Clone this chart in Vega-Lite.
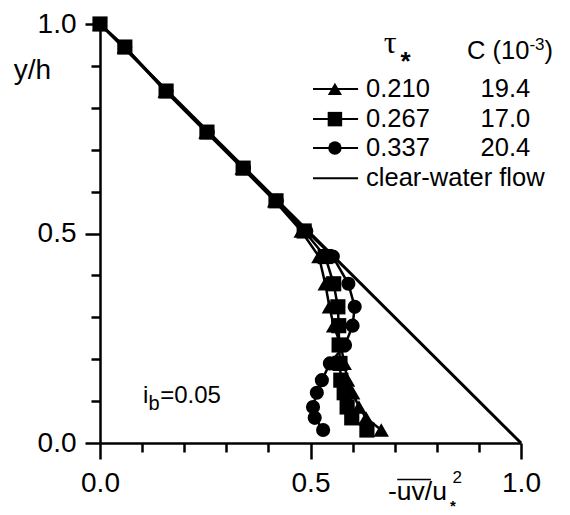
{
  "$schema": "https://vega.github.io/schema/vega-lite/v6.json",
  "width": 421,
  "height": 419,
  "autosize": "none",
  "padding": {"left": 100, "top": 24, "right": 49, "bottom": 72},
  "background": "white",
  "config": {"view": {"stroke": null}, "font": "Liberation Sans", "text": {"font": "Liberation Sans", "color": "black", "fontSize": 25.5}},
  "datasets": {
    "clear": [{"x": 0, "y": 1}, {"x": 1, "y": 0}],
    "one": [{}],
    "profiles": [
      {"tau": "0.210", "x": 0, "y": 1.0}, {"tau": "0.210", "x": 0.058, "y": 0.945}, {"tau": "0.210", "x": 0.155, "y": 0.84}, {"tau": "0.210", "x": 0.252, "y": 0.742}, {"tau": "0.210", "x": 0.338, "y": 0.656}, {"tau": "0.210", "x": 0.415, "y": 0.578}, {"tau": "0.210", "x": 0.478, "y": 0.506}, {"tau": "0.210", "x": 0.52, "y": 0.445}, {"tau": "0.210", "x": 0.535, "y": 0.38}, {"tau": "0.210", "x": 0.545, "y": 0.325}, {"tau": "0.210", "x": 0.555, "y": 0.28}, {"tau": "0.210", "x": 0.572, "y": 0.234}, {"tau": "0.210", "x": 0.58, "y": 0.19}, {"tau": "0.210", "x": 0.588, "y": 0.15}, {"tau": "0.210", "x": 0.6, "y": 0.12}, {"tau": "0.210", "x": 0.615, "y": 0.086}, {"tau": "0.210", "x": 0.632, "y": 0.06}, {"tau": "0.210", "x": 0.668, "y": 0.031},
      {"tau": "0.267", "x": 0, "y": 1.0}, {"tau": "0.267", "x": 0.059, "y": 0.945}, {"tau": "0.267", "x": 0.157, "y": 0.84}, {"tau": "0.267", "x": 0.254, "y": 0.742}, {"tau": "0.267", "x": 0.34, "y": 0.656}, {"tau": "0.267", "x": 0.418, "y": 0.578}, {"tau": "0.267", "x": 0.485, "y": 0.506}, {"tau": "0.267", "x": 0.535, "y": 0.445}, {"tau": "0.267", "x": 0.555, "y": 0.38}, {"tau": "0.267", "x": 0.565, "y": 0.325}, {"tau": "0.267", "x": 0.567, "y": 0.28}, {"tau": "0.267", "x": 0.568, "y": 0.234}, {"tau": "0.267", "x": 0.57, "y": 0.19}, {"tau": "0.267", "x": 0.572, "y": 0.15}, {"tau": "0.267", "x": 0.58, "y": 0.12}, {"tau": "0.267", "x": 0.587, "y": 0.086}, {"tau": "0.267", "x": 0.598, "y": 0.06}, {"tau": "0.267", "x": 0.634, "y": 0.031},
      {"tau": "0.337", "x": 0, "y": 1.0}, {"tau": "0.337", "x": 0.06, "y": 0.945}, {"tau": "0.337", "x": 0.158, "y": 0.84}, {"tau": "0.337", "x": 0.256, "y": 0.742}, {"tau": "0.337", "x": 0.342, "y": 0.656}, {"tau": "0.337", "x": 0.42, "y": 0.578}, {"tau": "0.337", "x": 0.49, "y": 0.506}, {"tau": "0.337", "x": 0.553, "y": 0.445}, {"tau": "0.337", "x": 0.59, "y": 0.38}, {"tau": "0.337", "x": 0.605, "y": 0.325}, {"tau": "0.337", "x": 0.6, "y": 0.28}, {"tau": "0.337", "x": 0.582, "y": 0.234}, {"tau": "0.337", "x": 0.546, "y": 0.19}, {"tau": "0.337", "x": 0.527, "y": 0.15}, {"tau": "0.337", "x": 0.515, "y": 0.12}, {"tau": "0.337", "x": 0.506, "y": 0.086}, {"tau": "0.337", "x": 0.51, "y": 0.06}, {"tau": "0.337", "x": 0.53, "y": 0.031}
    ],
    "legend": [
      {"tau": "0.210", "C": "19.4"},
      {"tau": "0.267", "C": "17.0"},
      {"tau": "0.337", "C": "20.4"}
    ]
  },
  "layer": [
    {
      "data": {"name": "clear"},
      "mark": {"type": "line", "color": "black", "strokeWidth": 3},
      "encoding": {
        "x": {
          "field": "x", "type": "quantitative",
          "scale": {"domain": [0, 1], "nice": false, "zero": false},
          "axis": {
            "title": null, "grid": false,
            "values": [0, 0.1, 0.2, 0.3, 0.4, 0.5, 0.6, 0.7, 0.8, 0.9, 1],
            "domainColor": "black", "domainWidth": 2.5,
            "tickColor": "black", "tickWidth": 2.5,
            "tickSize": {"condition": {"test": "datum.value === 0 || datum.value === 0.5 || datum.value === 1", "value": 16}, "value": 9},
            "labelExpr": "(datum.value === 0 || datum.value === 0.5 || datum.value === 1) ? format(datum.value, '.1f') : ''",
            "labelFont": "Liberation Sans", "labelFontSize": 28, "labelColor": "black",
            "labelPadding": 10, "labelFlush": false, "labelOverlap": false
          }
        },
        "y": {
          "field": "y", "type": "quantitative",
          "scale": {"domain": [0, 1], "nice": false, "zero": false},
          "axis": {
            "title": null, "grid": false,
            "values": [0, 0.1, 0.2, 0.3, 0.4, 0.5, 0.6, 0.7, 0.8, 0.9, 1],
            "domainColor": "black", "domainWidth": 2.5,
            "tickColor": "black", "tickWidth": 2.5,
            "tickSize": {"condition": {"test": "datum.value === 0 || datum.value === 0.5 || datum.value === 1", "value": 15}, "value": 9},
            "labelExpr": "(datum.value === 0 || datum.value === 0.5 || datum.value === 1) ? format(datum.value, '.1f') : ''",
            "labelFont": "Liberation Sans", "labelFontSize": 28, "labelColor": "black",
            "labelPadding": 9, "labelFlush": false, "labelOverlap": false
          }
        }
      }
    },
    {
      "data": {"name": "profiles"},
      "mark": {"type": "line", "color": "black", "strokeWidth": 2.5},
      "encoding": {
        "x": {"field": "x", "type": "quantitative"},
        "y": {"field": "y", "type": "quantitative"},
        "detail": {"field": "tau"},
        "order": {"field": "y", "sort": "descending"}
      }
    },
    {
      "data": {"name": "profiles"},
      "transform": [{"filter": "datum.tau === '0.210'"}],
      "mark": {"type": "point", "shape": "triangle-up", "filled": true, "color": "black", "opacity": 1, "size": 240},
      "encoding": {"x": {"field": "x", "type": "quantitative"}, "y": {"field": "y", "type": "quantitative"}}
    },
    {
      "data": {"name": "profiles"},
      "transform": [{"filter": "datum.tau === '0.337'"}],
      "mark": {"type": "point", "shape": "circle", "filled": true, "color": "black", "opacity": 1, "size": 200},
      "encoding": {"x": {"field": "x", "type": "quantitative"}, "y": {"field": "y", "type": "quantitative"}}
    },
    {
      "data": {"name": "profiles"},
      "transform": [{"filter": "datum.tau === '0.267'"}],
      "mark": {"type": "point", "shape": "square", "filled": true, "color": "black", "opacity": 1, "size": 230},
      "encoding": {"x": {"field": "x", "type": "quantitative"}, "y": {"field": "y", "type": "quantitative"}}
    },
    {
      "data": {"name": "legend"},
      "transform": [{"filter": "datum.tau === '0.210'"}],
      "encoding": {"y": {"datum": 0.845}},
      "layer": [
        {"mark": {"type": "rule", "color": "black", "strokeWidth": 2}, "encoding": {"x": {"datum": 0.506}, "x2": {"datum": 0.613}}},
        {"mark": {"type": "point", "shape": "triangle-up", "filled": true, "color": "black", "opacity": 1, "size": 200}, "encoding": {"x": {"datum": 0.558}}},
        {"mark": {"type": "text", "align": "left", "baseline": "middle"}, "encoding": {"x": {"datum": 0.632}, "text": {"field": "tau"}}},
        {"mark": {"type": "text", "align": "center", "baseline": "middle"}, "encoding": {"x": {"datum": 0.963}, "text": {"field": "C"}}}
      ]
    },
    {
      "data": {"name": "legend"},
      "transform": [{"filter": "datum.tau === '0.267'"}],
      "encoding": {"y": {"datum": 0.773}},
      "layer": [
        {"mark": {"type": "rule", "color": "black", "strokeWidth": 2}, "encoding": {"x": {"datum": 0.506}, "x2": {"datum": 0.613}}},
        {"mark": {"type": "point", "shape": "square", "filled": true, "color": "black", "opacity": 1, "size": 210}, "encoding": {"x": {"datum": 0.558}}},
        {"mark": {"type": "text", "align": "left", "baseline": "middle"}, "encoding": {"x": {"datum": 0.632}, "text": {"field": "tau"}}},
        {"mark": {"type": "text", "align": "center", "baseline": "middle"}, "encoding": {"x": {"datum": 0.963}, "text": {"field": "C"}}}
      ]
    },
    {
      "data": {"name": "legend"},
      "transform": [{"filter": "datum.tau === '0.337'"}],
      "encoding": {"y": {"datum": 0.704}},
      "layer": [
        {"mark": {"type": "rule", "color": "black", "strokeWidth": 2}, "encoding": {"x": {"datum": 0.506}, "x2": {"datum": 0.613}}},
        {"mark": {"type": "point", "shape": "circle", "filled": true, "color": "black", "opacity": 1, "size": 180}, "encoding": {"x": {"datum": 0.558}}},
        {"mark": {"type": "text", "align": "left", "baseline": "middle"}, "encoding": {"x": {"datum": 0.632}, "text": {"field": "tau"}}},
        {"mark": {"type": "text", "align": "center", "baseline": "middle"}, "encoding": {"x": {"datum": 0.963}, "text": {"field": "C"}}}
      ]
    },
    {
      "data": {"name": "one"},
      "layer": [
        {"mark": {"type": "rule", "color": "black", "strokeWidth": 2}, "encoding": {"x": {"datum": 0.506}, "x2": {"datum": 0.613}, "y": {"datum": 0.632}}},
        {"mark": {"type": "text", "align": "left", "baseline": "middle", "text": "clear-water flow"}, "encoding": {"x": {"datum": 0.632}, "y": {"datum": 0.632}}},
        {"mark": {"type": "text", "align": "center", "baseline": "alphabetic", "text": "τ", "font": "Liberation Serif", "fontSize": 32}, "encoding": {"x": {"datum": 0.689}, "y": {"datum": 0.931}}},
        {"mark": {"type": "text", "align": "center", "baseline": "alphabetic", "text": "*", "fontSize": 26, "fontWeight": "bold"}, "encoding": {"x": {"datum": 0.726}, "y": {"datum": 0.89}}},
        {"mark": {"type": "text", "align": "left", "baseline": "alphabetic", "text": "C (10"}, "encoding": {"x": {"datum": 0.872}, "y": {"datum": 0.917}}},
        {"mark": {"type": "text", "align": "left", "baseline": "alphabetic", "text": "-3", "fontSize": 17}, "encoding": {"x": {"datum": 1.02}, "y": {"datum": 0.938}}},
        {"mark": {"type": "text", "align": "left", "baseline": "alphabetic", "text": ")"}, "encoding": {"x": {"datum": 1.056}, "y": {"datum": 0.917}}},
        {"mark": {"type": "text", "align": "left", "baseline": "alphabetic", "text": "y/h", "fontSize": 28}, "encoding": {"x": {"datum": -0.205}, "y": {"datum": 0.869}}},
        {"mark": {"type": "text", "align": "left", "baseline": "alphabetic", "text": "i", "fontSize": 24}, "encoding": {"x": {"datum": 0.102}, "y": {"datum": 0.0955}}},
        {"mark": {"type": "text", "align": "left", "baseline": "alphabetic", "text": "b", "fontSize": 20}, "encoding": {"x": {"datum": 0.115}, "y": {"datum": 0.079}}},
        {"mark": {"type": "text", "align": "left", "baseline": "alphabetic", "text": "=0.05", "fontSize": 24}, "encoding": {"x": {"datum": 0.143}, "y": {"datum": 0.0955}}},
        {"mark": {"type": "text", "align": "left", "baseline": "alphabetic", "text": "-uv/u", "fontSize": 26.5}, "encoding": {"x": {"datum": 0.684}, "y": {"datum": -0.136}}},
        {"mark": {"type": "rule", "color": "black", "strokeWidth": 1.5}, "encoding": {"x": {"datum": 0.706}, "x2": {"datum": 0.786}, "y": {"datum": -0.087}}},
        {"mark": {"type": "text", "align": "left", "baseline": "alphabetic", "text": "2", "fontSize": 17}, "encoding": {"x": {"datum": 0.837}, "y": {"datum": -0.095}}},
        {"mark": {"type": "text", "align": "center", "baseline": "alphabetic", "text": "*", "fontSize": 15, "fontWeight": "bold"}, "encoding": {"x": {"datum": 0.838}, "y": {"datum": -0.162}}}
      ]
    }
  ]
}
